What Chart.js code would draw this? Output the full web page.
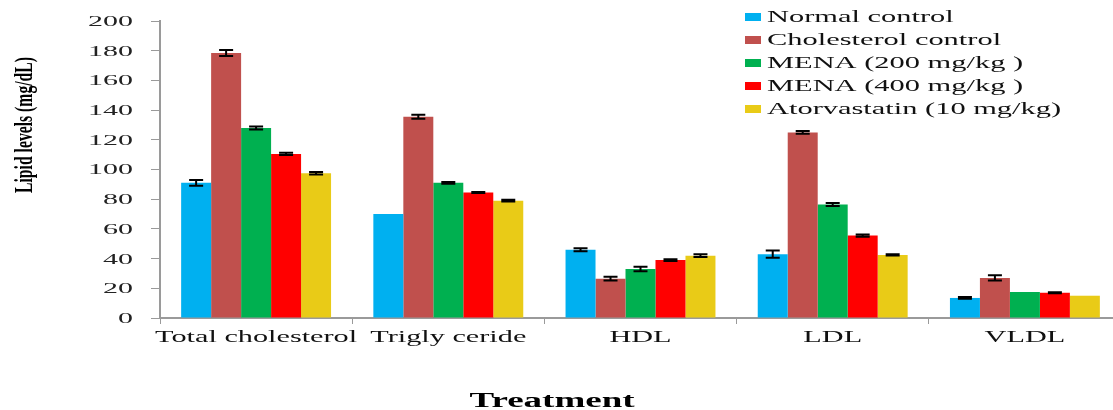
<!DOCTYPE html>
<html>
<head>
<meta charset="utf-8">
<script src="https://cdn.jsdelivr.net/npm/chart.js@4.4.1/dist/chart.umd.min.js"></script>
<style>
  html, body { margin: 0; padding: 0; background: #fff; overflow: hidden; }
  #wrap { width: 1130px; height: 410px; }
</style>
</head>
<body>
<div id="wrap"><canvas id="c" width="1130" height="410"></canvas></div>
<script>
// Lipid profile per treatment group (mg/dL), mean with error
const categories = ['Total cholesterol', 'Trigly ceride', 'HDL', 'LDL', 'VLDL'];
const yTicks = [0, 20, 40, 60, 80, 100, 120, 140, 160, 180, 200];

const normalControl      = [91, 70, 46, 43, 13.5];
const normalControlErr   = [2, 0, 1, 2.5, 0.6];
const cholControl        = [178.5, 135.5, 26.5, 125, 27];
const cholControlErr     = [2, 1.3, 1.2, 1, 1.8];
const mena200            = [128, 91, 33, 76.5, 17.5];
const mena200Err         = [1, 0.6, 1.5, 1, 0];
const mena400            = [110.5, 84.5, 39, 55.5, 17];
const mena400Err         = [0.8, 0.4, 0.6, 0.8, 0.4];
const atorvastatin       = [97.5, 79, 42, 42.5, 15];
const atorvastatinErr    = [0.8, 0.6, 1, 0.4, 0];

const seriesLabels = ['Normal control', 'Cholesterol control', 'MENA (200 mg/kg )', 'MENA (400 mg/kg )', 'Atorvastatin (10 mg/kg)'];
const seriesColors = ['#00B0F0', '#C0504D', '#00B050', '#FF0000', '#E9CB17'];
const seriesValues = [normalControl, cholControl, mena200, mena400, atorvastatin];
const seriesErrors = [normalControlErr, cholControlErr, mena200Err, mena400Err, atorvastatinErr];

const SERIF = '"Liberation Serif", "Times New Roman", serif';

// Draw text squeezed/stretched horizontally by sx
function drawScaledText(ctx, text, x, y, font, sx, align, baseline, color) {
  ctx.save();
  ctx.font = font;
  ctx.fillStyle = color;
  ctx.textBaseline = baseline;
  const w = ctx.measureText(text).width * sx;
  let left = x;
  if (align === 'center') left = x - w / 2;
  else if (align === 'right') left = x - w;
  ctx.translate(left, y);
  ctx.scale(sx, 1);
  ctx.textAlign = 'left';
  ctx.fillText(text, 0, 0);
  ctx.restore();
}

const decorations = {
  id: 'decorations',
  afterDatasetsDraw(chart) {
    const ctx = chart.ctx;
    const ys = chart.scales.y;
    // error bars
    ctx.save();
    ctx.strokeStyle = '#000';
    ctx.lineWidth = 2;
    chart.data.datasets.forEach((ds, i) => {
      const meta = chart.getDatasetMeta(i);
      const errs = seriesErrors[i];
      meta.data.forEach((bar, j) => {
        const e = errs[j];
        if (!e) return;
        const v = ds.data[j];
        const top = ys.getPixelForValue(v + e);
        const bot = ys.getPixelForValue(v - e);
        const half = 7;
        ctx.beginPath();
        ctx.moveTo(bar.x, top); ctx.lineTo(bar.x, bot);
        ctx.moveTo(bar.x - half, top); ctx.lineTo(bar.x + half, top);
        ctx.moveTo(bar.x - half, bot); ctx.lineTo(bar.x + half, bot);
        ctx.stroke();
      });
    });
    ctx.restore();
  },
  afterDraw(chart) {
    const ctx = chart.ctx;
    const xs = chart.scales.x;
    const ys = chart.scales.y;
    // y tick labels
    yTicks.forEach(t => {
      drawScaledText(ctx, String(t), 133, ys.getPixelForValue(t) + 1,
        '15px ' + SERIF, 2.0, 'right', 'middle', '#222');
    });
    // x category labels
    categories.forEach((c, i) => {
      drawScaledText(ctx, c, xs.getPixelForValue(i), 342,
        '17px ' + SERIF, 1.78, 'center', 'alphabetic', '#111');
    });
    // x axis title
    drawScaledText(ctx, 'Treatment', 552, 407,
      'bold 20px ' + SERIF, 1.85, 'center', 'alphabetic', '#000');
    // y axis title, rotated and condensed
    ctx.save();
    ctx.translate(25, 125);
    ctx.rotate(-Math.PI / 2);
    ctx.font = 'bold 26px ' + SERIF;
    const tw = ctx.measureText('Lipid levels (mg/dL)').width;
    const sx = 136 / tw;
    ctx.scale(sx, 1);
    ctx.fillStyle = '#000';
    ctx.textAlign = 'center';
    ctx.textBaseline = 'middle';
    ctx.fillText('Lipid levels (mg/dL)', 0, 0);
    ctx.restore();
    // legend
    chart.data.datasets.forEach((ds, i) => {
      const cy = 17 + i * 23;
      ctx.fillStyle = ds.backgroundColor;
      ctx.fillRect(745, cy - 4, 16, 8);
      drawScaledText(ctx, ds.label, 767, cy + 5,
        '17px ' + SERIF, 1.79, 'left', 'alphabetic', '#111');
    });
  }
};

new Chart(document.getElementById('c'), {
  type: 'bar',
  data: {
    labels: categories,
    datasets: seriesValues.map((vals, i) => ({
      label: seriesLabels[i],
      data: vals,
      backgroundColor: seriesColors[i],
      borderWidth: 0,
      categoryPercentage: 0.78,
      barPercentage: 1.0
    }))
  },
  options: {
    responsive: false,
    animation: false,
    layout: { padding: { top: 21, right: 9, bottom: 0, left: 0 } },
    plugins: { legend: { display: false }, tooltip: { enabled: false } },
    scales: {
      x: {
        ticks: { display: false },
        grid: { display: true, drawOnChartArea: false, drawTicks: true, tickLength: 6, color: '#9a9a9a', lineWidth: 1, offset: true },
        border: { display: true, color: '#9a9a9a', width: 2 },
        afterFit(scale) { scale.height = 92; }
      },
      y: {
        min: 0, max: 200,
        ticks: { display: false, stepSize: 20 },
        grid: { display: true, drawOnChartArea: false, drawTicks: true, tickLength: 9, color: '#9a9a9a', lineWidth: 1 },
        border: { display: true, color: '#9a9a9a', width: 2 },
        afterFit(scale) { scale.width = 160; }
      }
    }
  },
  plugins: [decorations]
});
</script>
</body>
</html>
